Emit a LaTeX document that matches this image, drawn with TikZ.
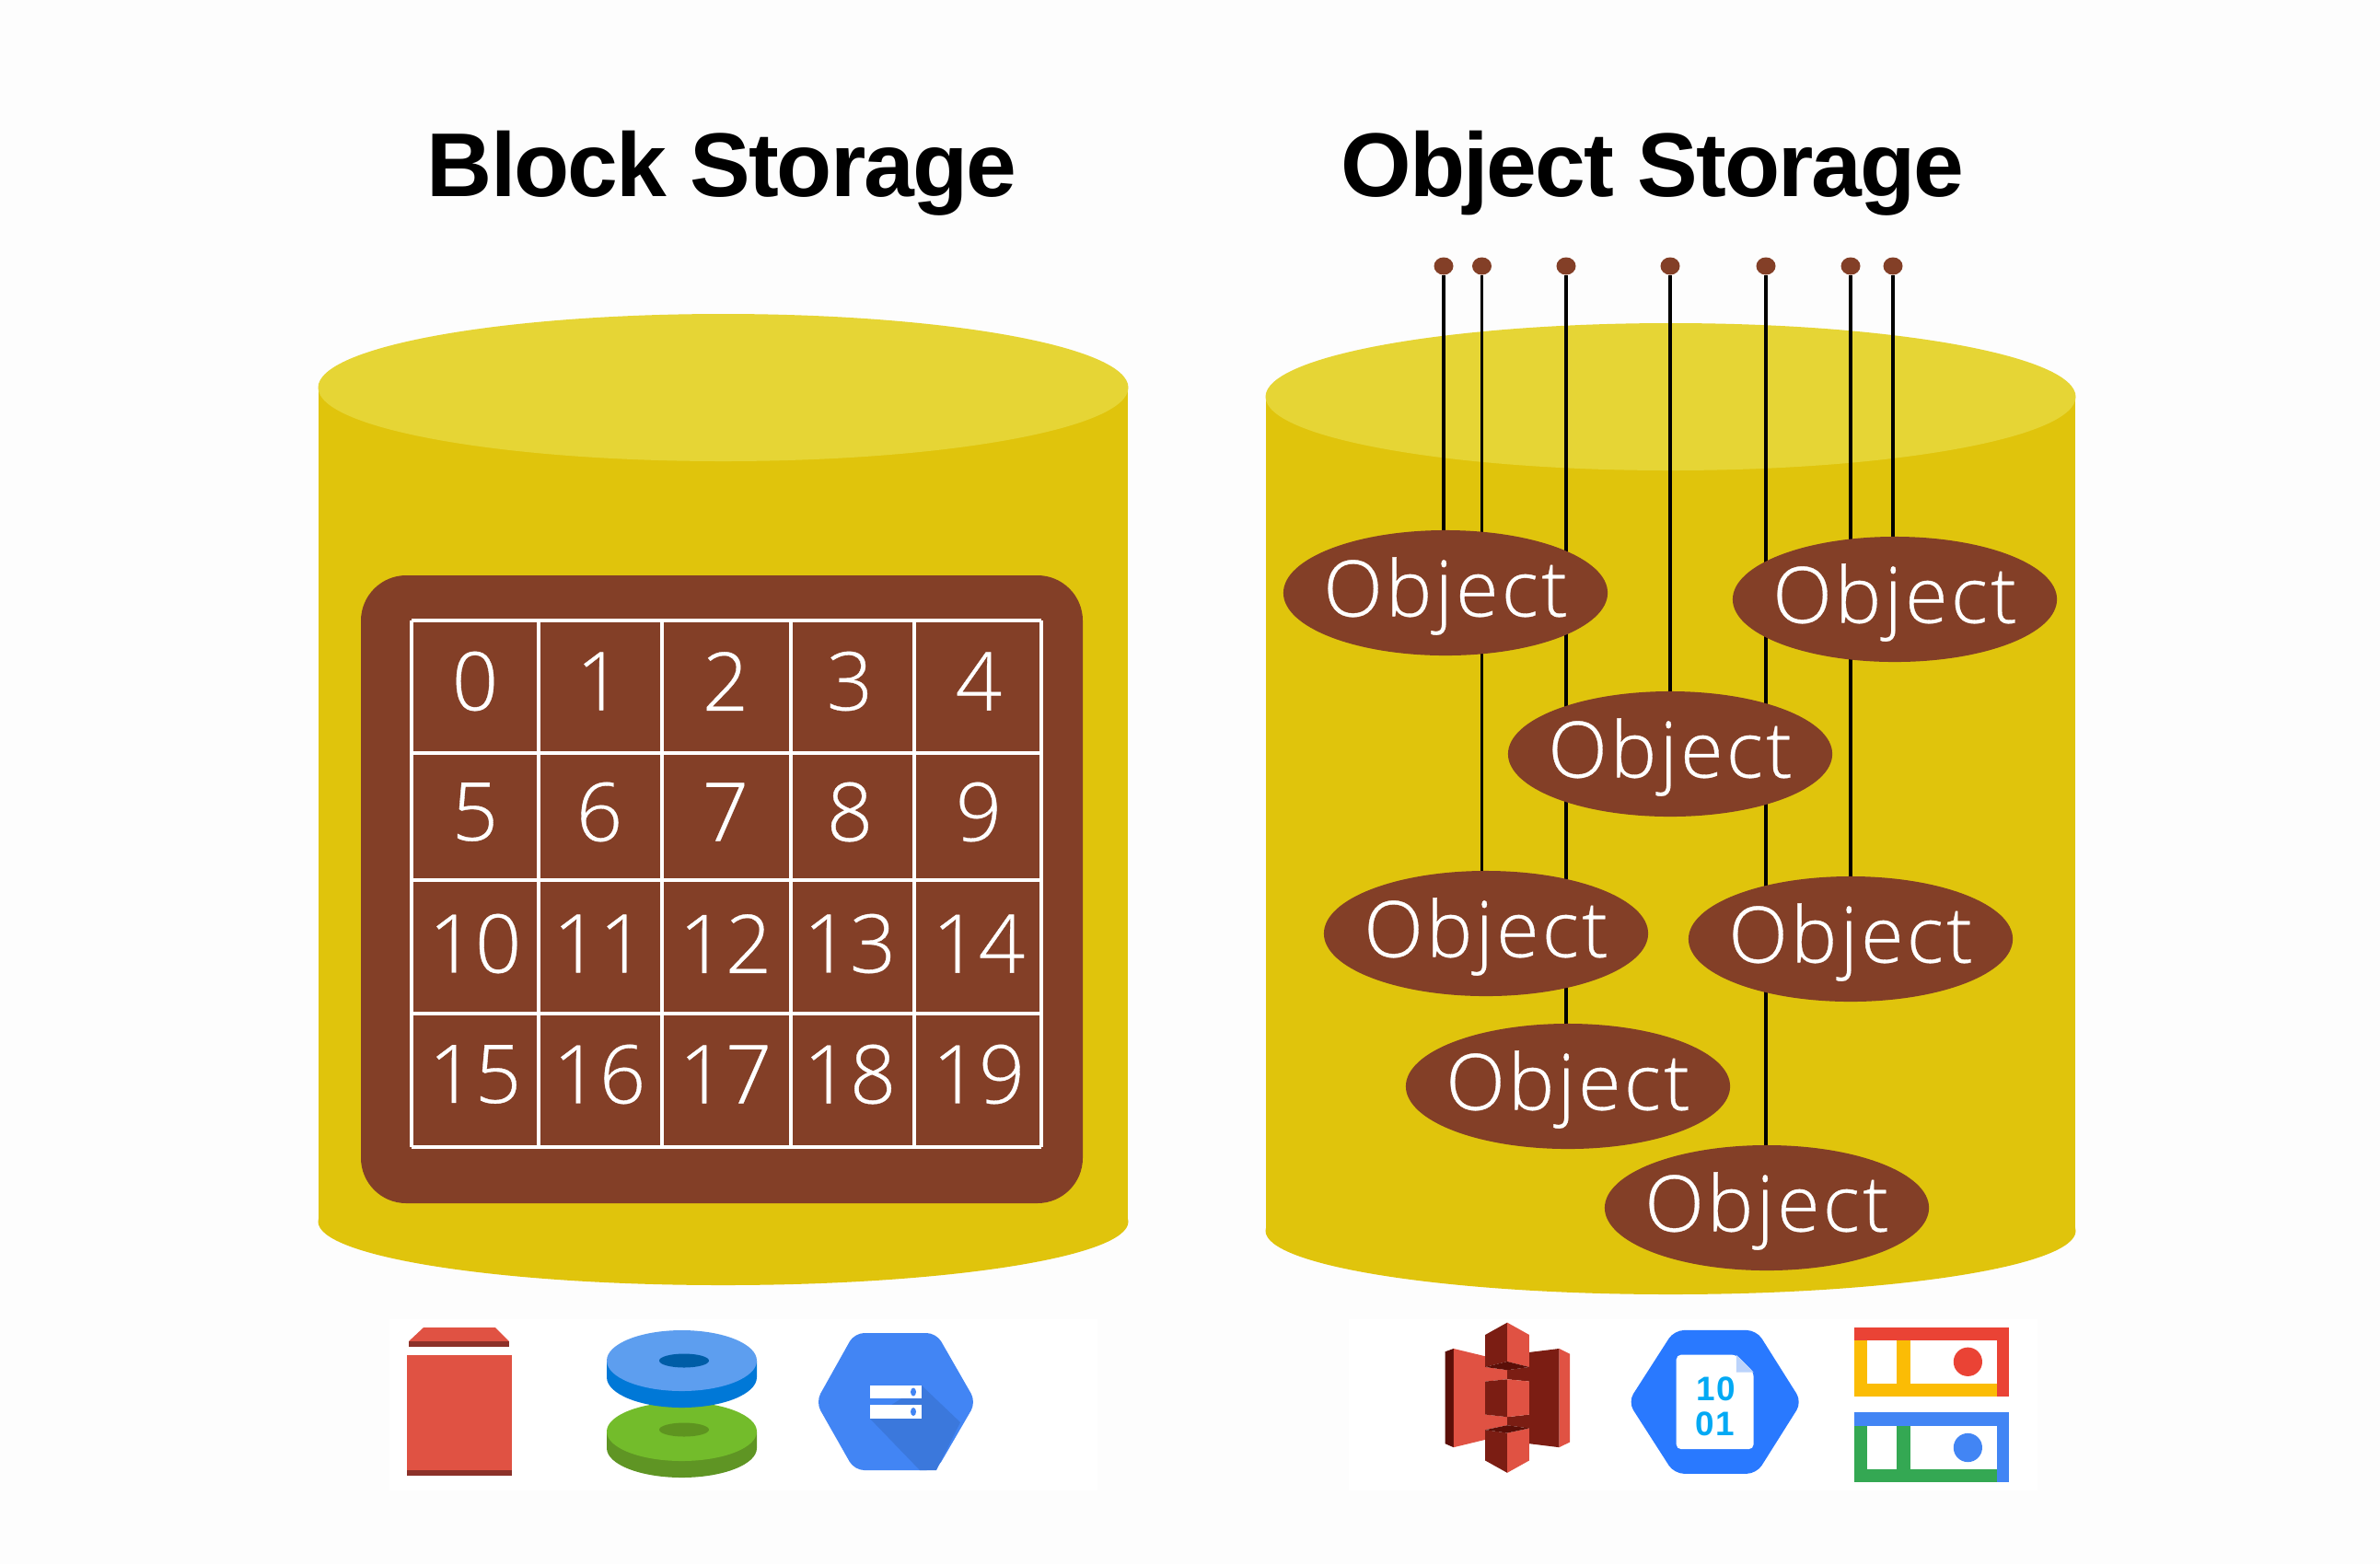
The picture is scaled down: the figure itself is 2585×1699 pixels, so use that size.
\documentclass[tikz,border=0pt]{standalone}
\usepackage{fontspec}
\usepackage{tikz,xcolor}
\usetikzlibrary{positioning,shapes.geometric,backgrounds}
\setmainfont{Liberation Sans}
\newfontfamily\lightfont{Open Sans}[UprightFont=* Light,FakeBold=0.4]
\newfontfamily\objfont{Open Sans}[UprightFont=* Light,FakeBold=0.4,LetterSpace=4]
\definecolor{bgc}{HTML}{FDFDFD}
\definecolor{side}{HTML}{E0C40C}
\definecolor{lid}{HTML}{E6D535}
\definecolor{brn}{HTML}{833F27}
\definecolor{redc}{HTML}{E05243}
\definecolor{redd}{HTML}{8C3129}
\definecolor{rust}{HTML}{7B1D13}
\definecolor{rustd}{HTML}{5B0F08}
\definecolor{gblue}{HTML}{4285F4}
\definecolor{gblued}{HTML}{3B78DC}
\definecolor{dblue}{HTML}{5D9EEF}
\definecolor{dblues}{HTML}{0078D7}
\definecolor{dblueh}{HTML}{005DA6}
\definecolor{dgreen}{HTML}{73BC2B}
\definecolor{dgreens}{HTML}{5F9524}
\definecolor{dgreenh}{HTML}{5E9420}
\definecolor{azure}{HTML}{2979FF}
\definecolor{fold}{HTML}{BBD3FB}
\definecolor{bits}{HTML}{03A9F4}
\definecolor{gred}{HTML}{EA4335}
\definecolor{gyel}{HTML}{FBBC05}
\definecolor{ggrn}{HTML}{34A853}
\newcommand{\objtxt}{\makebox[0pt]{Object}}
\tikzset{
  ttl/.style={font=\bfseries\addfontfeatures{LetterSpace=-2}\fontsize{28}{30}\selectfont,text=black,inner sep=0pt},
  obj/.style={ellipse,fill=brn,text=white,inner sep=0pt,minimum width=3.52cm,minimum height=1.36cm,text height=14.5pt,text depth=0pt,font=\objfont\fontsize{24}{26}\selectfont},
  pin/.style={ellipse,fill=brn,inner sep=0pt,minimum width=2.1mm,minimum height=1.9mm},
  num/.style={text=white,inner sep=0pt,font=\lightfont\fontsize{25}{28}\selectfont},
  bits10/.style={text=bits,inner sep=0pt,font=\bfseries\addfontfeatures{LetterSpace=6}\fontsize{10.5}{12}\selectfont},
  wire/.style={black,line width=1pt},
  gline/.style={white,line width=1pt},
}
\begin{document}
\begin{tikzpicture}[x=0.01cm,y=-0.01cm]
\useasboundingbox (0,0) rectangle (2585,1699);
\node[ttl] (t1) at (784,188) {Block Storage};
\node[ttl] (t2) at (1795,188) {Object Storage};
\node[pin] (d1) at (1568,289) {};
\node[pin] (d2) at (1609.5,289) {};
\node[pin] (d3) at (1701,289) {};
\node[pin] (d4) at (1814,289) {};
\node[pin] (d5) at (1918,289) {};
\node[pin] (d6) at (2010,289) {};
\node[pin] (d7) at (2056,289) {};
\node[obj] (o1) at (1570,644) {\objtxt};
\node[obj] (o2) at (2058,651) {\objtxt};
\node[obj] (o3) at (1814,819) {\objtxt};
\node[obj] (o4) at (1614,1014) {\objtxt};
\node[obj] (o5) at (2010,1020) {\objtxt};
\node[obj] (o6) at (1703,1180) {\objtxt};
\node[obj] (o7) at (1919,1312) {\objtxt};
\begin{scope}[on background layer]
\fill[bgc] (0,0) rectangle (2585,1699);
\fill[white] (423,1433) rectangle (1192,1619);
\fill[white] (1465,1433) rectangle (2213,1619);
\fill[side] (346,421) rectangle (1225,1327);
\fill[side] (785.5,1327) ellipse [x radius=440,y radius=69];
\fill[lid] (785.5,421) ellipse [x radius=440,y radius=80];
\fill[side] (1375,431) rectangle (2254,1337);
\fill[side] (1814.5,1337) ellipse [x radius=440,y radius=69];
\fill[lid] (1814.5,431) ellipse [x radius=440,y radius=80];
\draw[wire] (d1) -- (d1 |- o1);
\draw[wire] (d2) -- (d2 |- o4);
\draw[wire] (d3) -- (d3 |- o6);
\draw[wire] (d4) -- (d4 |- o3);
\draw[wire] (d5) -- (d5 |- o7);
\draw[wire] (d6) -- (d6 |- o5);
\draw[wire] (d7) -- (d7 |- o2);
\end{scope}
\fill[brn,rounded corners=14pt] (392,625) rectangle (1176,1307);
\foreach \gx in {447,585,719,859,993,1131} \draw[gline] (\gx,674) -- (\gx,1246);
\foreach \gy in {674,818,956,1101,1246} \draw[gline] (447,\gy) -- (1131,\gy);
\foreach \n [count=\i from 0] in {0,...,19} {
  \pgfmathtruncatemacro{\cc}{mod(\i,5)}
  \pgfmathtruncatemacro{\rr}{int(\i/5)}
  \pgfmathsetmacro{\nx}{{516,651,788,923,1063}[\cc]}
  \pgfmathsetmacro{\ny}{{740,882,1025,1167}[\rr]}
  \node[num] (n\n) at (\nx,\ny) {\n};
}
% block icons
\fill[redc] (460,1442) -- (538,1442) -- (553,1457) -- (444,1457) -- cycle;
\fill[redd] (444,1457) rectangle (553,1463);
\fill[redc] (442,1472) rectangle (556,1597);
\fill[redd] (442,1597) rectangle (556,1603);
\fill[dgreens] (659,1555) -- (659,1573) arc [start angle=180,end angle=0,x radius=81.5,y radius=32] -- (822,1555) -- cycle;
\fill[dgreen] (740.5,1555) ellipse [x radius=81.5,y radius=32];
\fill[dgreenh] (743,1553) ellipse [x radius=27,y radius=7.5];
\fill[dblues] (659,1478) -- (659,1496) arc [start angle=180,end angle=0,x radius=81.5,y radius=33] -- (822,1478) -- cycle;
\fill[dblue] (740.5,1478) ellipse [x radius=81.5,y radius=33];
\fill[dblueh] (743,1478) ellipse [x radius=27,y radius=7.5];
\fill[gblue,rounded corners=3pt] (928,1448) -- (1017,1448) -- (1060,1523) -- (1017,1597) -- (928,1597) -- (886,1523) -- cycle;
\fill[gblued] (1001,1505) -- (1043,1545) -- (1017,1597) -- (999,1597) -- (945,1541) -- cycle;
\fill[white] (945,1505) rectangle (1001,1519);
\fill[white] (945,1526) rectangle (1001,1541);
\fill[gblue] (992,1512) ellipse [x radius=3,y radius=4.5];
\fill[gblue] (992,1533.5) ellipse [x radius=3,y radius=4.5];
% object icons
\begin{scope}[shift={(1520,1400)},xscale=.459,yscale=.333]
\fill[rustd] (108,205) -- (128,195) -- (128,517) -- (108,505) -- cycle;
\fill[redc] (128,195) -- (203,220) -- (203,255) -- (255,265) -- (255,295) -- (203,302) -- (203,410) -- (255,418) -- (255,445) -- (203,460) -- (203,492) -- (128,517) -- cycle;
\fill[rust] (307,207) -- (378,195) -- (378,517) -- (307,505) -- (307,455) -- (255,445) -- (255,418) -- (307,410) -- (307,302) -- (255,295) -- (255,265) -- (307,255) -- cycle;
\fill[redc] (378,195) -- (403,212) -- (403,500) -- (378,517) -- cycle;
\fill[rust] (203,150) -- (255,110) -- (255,237) -- (203,255) -- cycle;
\fill[redc] (255,110) -- (307,150) -- (307,255) -- (255,237) -- cycle;
\fill[rustd] (203,255) -- (255,237) -- (307,255) -- (255,265) -- cycle;
\fill[rust] (203,302) -- (255,295) -- (255,418) -- (203,410) -- cycle;
\fill[redc] (255,295) -- (307,302) -- (307,410) -- (255,418) -- cycle;
\fill[rust] (203,460) -- (255,470) -- (255,600) -- (203,560) -- cycle;
\fill[redc] (255,470) -- (307,455) -- (307,560) -- (255,600) -- cycle;
\fill[rustd] (203,460) -- (255,445) -- (307,455) -- (255,470) -- cycle;
\fill[azure,rounded corners=3pt] (650,135) -- (845,135) -- (952,369) -- (845,603) -- (650,603) -- (541,369) -- cycle;
\fill[white,rounded corners=1.5pt] (655,215) -- (797,215) -- (838,272) -- (838,523) -- (655,523) -- cycle;
\fill[fold] (797,215) -- (838,272) -- (797,272) -- cycle;
\node[bits10] (b1) at (749,328) {10};
\node[bits10] (b2) at (747,440) {01};
\fill[gred] (1077,125) rectangle (1442,168);
\fill[gyel] (1077,168) rectangle (1107,350);
\fill[gyel] (1177,168) rectangle (1210,308);
\fill[gyel] (1077,308) rectangle (1413,350);
\fill[gred] (1413,168) rectangle (1442,350);
\fill[gred] (1345,238) ellipse [x radius=34,y radius=47];
\fill[gblue] (1077,403) rectangle (1442,448);
\fill[ggrn] (1077,448) rectangle (1107,630);
\fill[ggrn] (1177,448) rectangle (1210,588);
\fill[ggrn] (1077,588) rectangle (1413,630);
\fill[gblue] (1413,448) rectangle (1442,630);
\fill[gblue] (1345,518) ellipse [x radius=34,y radius=47];
\end{scope}
\end{tikzpicture}
\end{document}
